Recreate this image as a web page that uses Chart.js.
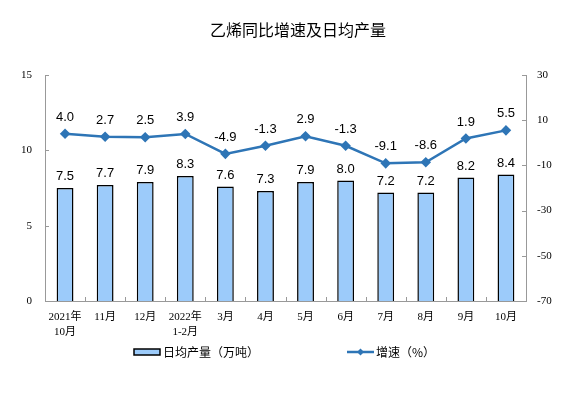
<!DOCTYPE html>
<html>
<head>
<meta charset="utf-8">
<script src="https://cdn.jsdelivr.net/npm/chart.js@4"></script>
<style>
  body { margin: 0; background: #fff; }
  #wrap { width: 575px; height: 394px; }
</style>
</head>
<body>
<div id="wrap"><canvas id="c" width="575" height="394"></canvas></div>
<script>
const months = [['2021年', '10月'], '11月', '12月', ['2022年', '1-2月'], '3月', '4月', '5月', '6月', '7月', '8月', '9月', '10月'];
const output = [7.5, 7.7, 7.9, 8.3, 7.6, 7.3, 7.9, 8.0, 7.2, 7.2, 8.2, 8.4];
const growth = [4.0, 2.7, 2.5, 3.9, -4.9, -1.3, 2.9, -1.3, -9.1, -8.6, 1.9, 5.5];
const leftTicks = [0, 5, 10, 15];
const rightTicks = [-70, -50, -30, -10, 10, 30];

const numFont = '"Liberation Serif", "Noto Sans CJK SC", serif';
const cjkFont = '"Noto Sans CJK SC", "Liberation Sans", sans-serif';
const lineColor = '#2E75B6';

// labels over bars and points, inward tick marks, title and legend
const extras = {
	id: 'extras',
	afterDatasetsDraw(chart) {
		const ctx = chart.ctx;
		const area = chart.chartArea;
		ctx.save();

		// small tick marks pointing into the plot
		ctx.strokeStyle = '#999';
		ctx.lineWidth = 1;
		ctx.beginPath();
		leftTicks.forEach(v => {
			const y = Math.round(chart.scales.y.getPixelForValue(v)) + 0.5;
			ctx.moveTo(area.left, y);
			ctx.lineTo(area.left + 4, y);
		});
		rightTicks.forEach(v => {
			const y = Math.round(chart.scales.y1.getPixelForValue(v)) + 0.5;
			ctx.moveTo(area.right, y);
			ctx.lineTo(area.right - 4, y);
		});
		const xs = chart.scales.x;
		for (let i = 0; i <= months.length; i++) {
			const x = Math.round(xs.getPixelForValue(i - 0.5)) + 0.5;
			ctx.moveTo(x, area.bottom);
			ctx.lineTo(x, area.bottom - 4);
		}
		ctx.stroke();

		ctx.fillStyle = '#000';
		ctx.font = '13px "Liberation Sans", Arial, sans-serif';
		ctx.textAlign = 'center';
		ctx.textBaseline = 'bottom';
		chart.getDatasetMeta(0).data.forEach((bar, i) => {
			ctx.fillText(output[i].toFixed(1), bar.x, bar.y - 5);
		});
		chart.getDatasetMeta(1).data.forEach((pt, i) => {
			ctx.fillText(growth[i].toFixed(1), pt.x, pt.y - 10);
		});

		// title
		ctx.font = '16px ' + cjkFont;
		ctx.textBaseline = 'middle';
		ctx.fillText('乙烯同比增速及日均产量', 298, 30);

		// legend
		ctx.textAlign = 'left';
		ctx.font = '12px ' + cjkFont;
		ctx.fillStyle = '#9CCBFA';
		ctx.fillRect(134, 349, 26, 6);
		ctx.strokeStyle = '#000';
		ctx.lineWidth = 1.5;
		ctx.strokeRect(134, 349, 26, 6);
		ctx.fillStyle = '#000';
		ctx.fillText('日均产量（万吨）', 163, 352);

		ctx.strokeStyle = lineColor;
		ctx.lineWidth = 2.5;
		ctx.beginPath();
		ctx.moveTo(347, 352);
		ctx.lineTo(374, 352);
		ctx.stroke();
		ctx.fillStyle = lineColor;
		ctx.beginPath();
		ctx.moveTo(360.5, 348.5);
		ctx.lineTo(364, 352);
		ctx.lineTo(360.5, 355.5);
		ctx.lineTo(357, 352);
		ctx.closePath();
		ctx.fill();
		ctx.fillStyle = '#000';
		ctx.fillText('增速（%）', 376, 352);
		ctx.restore();
	}
};

new Chart(document.getElementById('c'), {
	type: 'bar',
	data: {
		labels: months,
		datasets: [{
			type: 'bar',
			label: '日均产量（万吨）',
			data: output,
			yAxisID: 'y',
			backgroundColor: '#9CCBFA',
			borderColor: '#000',
			borderWidth: 1.5,
			barPercentage: 0.42,
			categoryPercentage: 1,
			order: 2
		}, {
			type: 'line',
			label: '增速（%）',
			data: growth,
			yAxisID: 'y1',
			borderColor: lineColor,
			backgroundColor: lineColor,
			borderWidth: 2.5,
			pointStyle: 'rectRot',
			pointRadius: 3.5,
			tension: 0,
			order: 1
		}]
	},
	options: {
		responsive: false,
		animation: false,
		layout: { padding: { top: 75, left: 0, right: 0, bottom: 0 } },
		plugins: {
			legend: { display: false },
			title: { display: false },
			tooltip: { enabled: false }
		},
		scales: {
			x: {
				offset: true,
				grid: { display: false, drawTicks: false },
				border: { display: true, color: '#999' },
				ticks: {
					color: '#000',
					font: { family: numFont, size: 11, lineHeight: 1.35 },
					padding: 9,
					maxRotation: 0,
					autoSkip: false
				},
				afterFit: (s) => { s.height = 93; }
			},
			y: {
				position: 'left',
				min: 0,
				max: 15,
				afterBuildTicks: (s) => { s.ticks = leftTicks.map(v => ({ value: v })); },
				grid: { display: false, drawTicks: false },
				border: { display: true, color: '#999' },
				ticks: { color: '#000', font: { family: numFont, size: 11 }, padding: 13 },
				afterFit: (s) => { s.width = 45; }
			},
			y1: {
				position: 'right',
				min: -70,
				max: 30,
				afterBuildTicks: (s) => { s.ticks = rightTicks.map(v => ({ value: v })); },
				grid: { display: false, drawTicks: false },
				border: { display: true, color: '#999' },
				ticks: { color: '#000', font: { family: numFont, size: 11 }, padding: 11 },
				afterFit: (s) => { s.width = 49; }
			}
		}
	},
	plugins: [extras]
});
</script>
</body>
</html>
